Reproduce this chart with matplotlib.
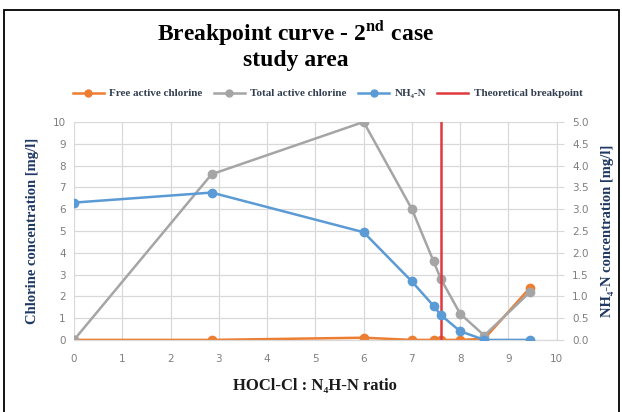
import matplotlib
matplotlib.use('Agg')
import matplotlib.pyplot as plt
from matplotlib.patches import Rectangle

# Data
ratio = [0, 2.85, 6, 7, 7.45, 7.6, 8, 8.5, 9.45]
free_cl = [0, 0, 0.1, 0, 0, 0, 0, 0.05, 2.4]
total_cl = [0, 7.6, 10, 6, 3.6, 2.8, 1.2, 0.2, 2.2]
nh4_n = [3.15, 3.38, 2.47, 1.34, 0.78, 0.57, 0.2, 0, 0]
breakpoint_x = 7.6

plt.rcParams['font.family'] = ['Liberation Serif', 'DejaVu Serif']
plt.rcParams['mathtext.fontset'] = 'stix'

navy = '#1F3864'
tick_col = '#7F7F7F'
grid_col = '#D9D9D9'

fig = plt.figure(figsize=(6.22, 4.12), dpi=100)
ax = fig.add_axes([0.119, 0.175, 0.776, 0.529])
ax2 = ax.twinx()

l1, = ax.plot(ratio, free_cl, color='#ED7D31', lw=1.8, marker='o', ms=6,
              label='Free active chlorine', zorder=3)
l2, = ax.plot(ratio, total_cl, color='#A5A5A5', lw=1.8, marker='o', ms=6,
              label='Total active chlorine', zorder=3)
l3, = ax2.plot(ratio, nh4_n, color='#5B9BD5', lw=1.8, marker='o', ms=6,
               label='NH\u2084-N', zorder=3)
l4 = ax.axvline(breakpoint_x, ymin=0, ymax=1, color='#E0393E', lw=1.8,
                label='Theoretical breakpoint', zorder=4)

ax.set_xlim(0, 10)
ax.set_ylim(0, 10)
ax2.set_ylim(0, 5)
ax.set_xticks(range(0, 11))
ax.set_yticks(range(0, 11))
ax2.set_yticks([i * 0.5 for i in range(11)])
ax2.set_yticklabels(['%.1f' % (i * 0.5) for i in range(11)])

ax.grid(True, color=grid_col, lw=0.9)
ax.set_axisbelow(True)
for a in (ax, ax2):
    for s in ('top', 'left', 'right'):
        a.spines[s].set_visible(False)
    a.spines['bottom'].set_color(grid_col)
    a.tick_params(colors=tick_col, labelsize=8)
ax2.spines['right'].set_visible(True)
ax2.spines['right'].set_color(grid_col)
ax.tick_params(axis='y', length=0, pad=6)
ax.tick_params(axis='x', length=0, pad=10)
ax2.tick_params(axis='y', length=5, color=grid_col, pad=6)
for lab in ax.get_xticklabels() + ax.get_yticklabels() + ax2.get_yticklabels():
    lab.set_family('DejaVu Sans')
    lab.set_fontsize(7.5)

ax.set_ylabel('Chlorine concentration [mg/l]', fontsize=10.5, fontweight='bold',
              color=navy, labelpad=10)
ax2.set_ylabel('NH\u2084-N concentration [mg/l]', fontsize=10.5, fontweight='bold',
               color=navy, labelpad=9)
ax.set_xlabel('HOCl-Cl : N\u2084H-N ratio', fontsize=12, fontweight='bold',
              color='#1A1A1A', labelpad=10)

fig.text(0.475, 0.922, r'Breakpoint curve - 2$^{\mathbf{nd}}$ case', ha='center',
         va='center', fontsize=17, fontweight='bold')
fig.text(0.475, 0.853, 'study area', ha='center', va='center', fontsize=17,
         fontweight='bold')

leg = fig.legend(handles=[l1, l2, l3, l4], loc='center', bbox_to_anchor=(0.527, 0.773),
                 ncol=4, frameon=False, handlelength=2.8,
                 columnspacing=1.0, handletextpad=0.5,
                 prop={'weight': 'bold', 'size': 8})
for t in leg.get_texts():
    t.set_color('#333F50')
for h in leg.legend_handles:
    h.set_markersize(5)

fig.add_artist(Rectangle((0.007, -0.01), 0.988, 0.985, transform=fig.transFigure,
                         fill=False, edgecolor='black', lw=1.3))

fig.savefig('out.png', dpi=100)
